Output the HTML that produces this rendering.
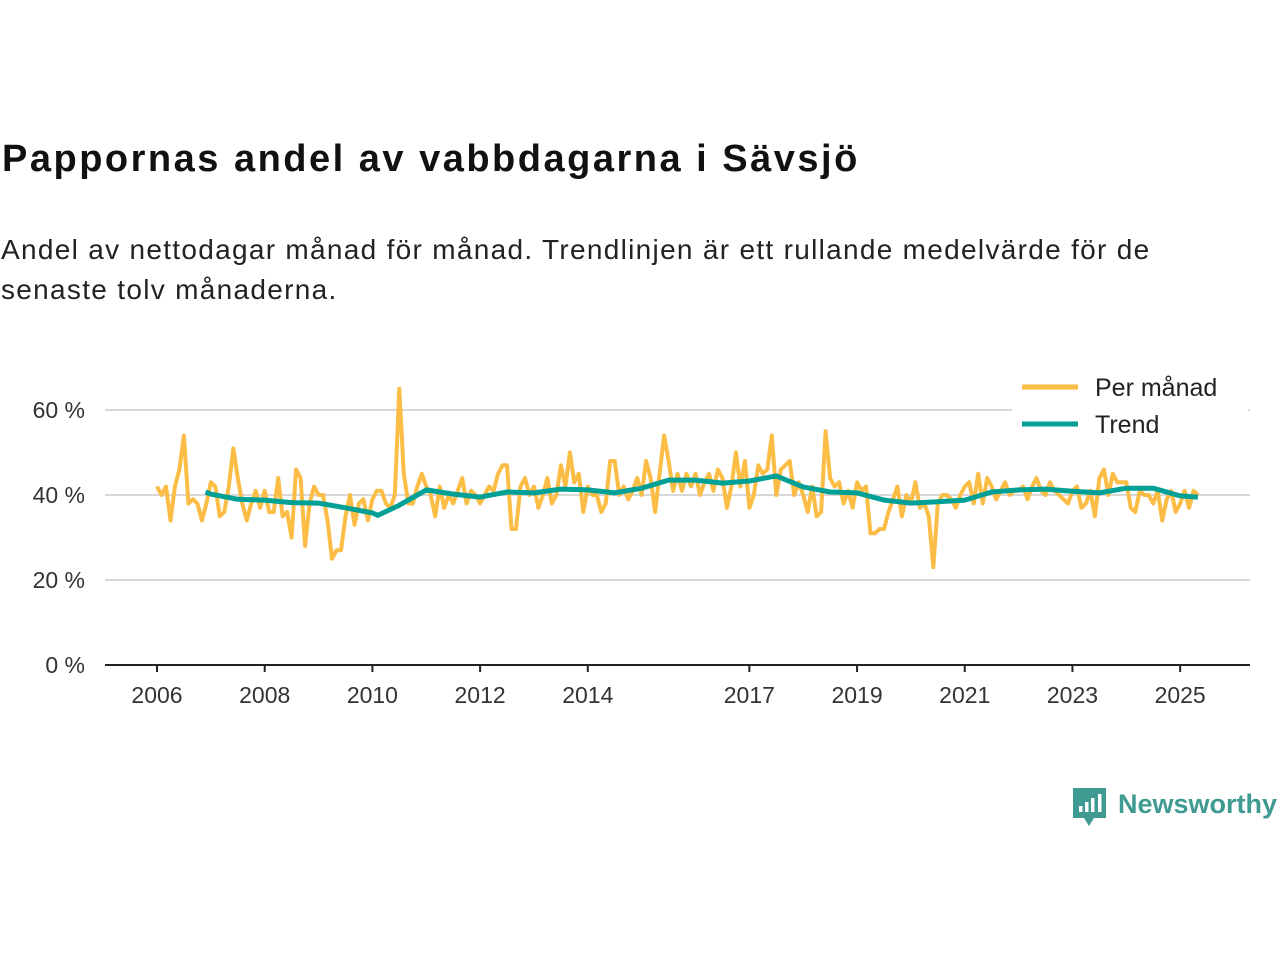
<!DOCTYPE html>
<html><head><meta charset="utf-8"><style>
body{margin:0;width:1280px;height:960px;background:#fff;font-family:"Liberation Sans",sans-serif;overflow:hidden;position:relative}
#title{position:absolute;left:2px;top:138px;font-size:38px;font-weight:bold;color:#111;letter-spacing:2.5px}
#sub{position:absolute;left:1px;top:230px;font-size:28px;line-height:40px;color:#222;width:1250px;letter-spacing:1.3px}
svg{position:absolute;left:0;top:0}
</style></head><body>
<div id="title">Pappornas andel av vabbdagarna i Sävsjö</div>
<div id="sub">Andel av nettodagar månad för månad. Trendlinjen är ett rullande medelvärde för de senaste tolv månaderna.</div>
<svg id="chart" width="1280" height="960"></svg>
<script>
const yTicks=[0,20,40,60];
const yTickLabels=["0 %","20 %","40 %","60 %"];
const xTicks=[2006,2008,2010,2012,2014,2017,2019,2021,2023,2025];
const startYear=2006;
const monthly=[
42,40,42,34,42,46,54,38,39,38,34,38,
43,42,35,36,42,51,44,38,34,38,41,37,
41,36,36,44,35,36,30,46,44,28,38,42,
40,40,34,25,27,27,35,40,33,38,39,34,
39,41,41,38,37,40,65,45,38,38,42,45,
42,40,35,42,37,40,38,41,44,38,41,40,
38,40,42,41,45,47,47,32,32,42,44,40,
42,37,40,44,38,40,47,42,50,43,45,36,
42,40,40,36,38,48,48,40,42,39,41,44,
40,48,44,36,45,54,48,41,45,41,45,42,
45,40,43,45,41,46,44,37,42,50,42,48,
37,40,47,45,46,54,40,46,47,48,40,43,
40,36,42,35,36,55,44,42,43,38,41,37,
43,41,42,31,31,32,32,36,39,42,35,40,
38,43,37,38,35,23,38,40,40,39,37,40,
42,43,38,45,38,44,42,39,41,43,40,41,
41,42,39,42,44,41,40,43,41,40,39,38,
41,42,37,38,41,35,44,46,40,45,43,43,
43,37,36,41,40,40,38,41,34,39,41,36,
38,41,37,41,40];
const trendDates=[2006.9,2007,2007.5,2008,2008.5,2009,2009.5,2010,2010.1,2010.5,2011,2011.5,2012,2012.5,2013,2013.5,2014,2014.5,2015,2015.5,2016,2016.5,2017,2017.5,2018,2018.5,2019,2019.5,2020,2020.5,2021,2021.5,2022,2022.5,2023,2023.5,2024,2024.5,2025,2025.33];
const trendValues=[40.7,40.2,39,38.8,38.2,38.1,37,35.8,35.2,37.6,41.2,40.2,39.5,40.7,40.5,41.4,41.2,40.5,41.6,43.5,43.5,42.8,43.3,44.5,41.9,40.7,40.5,38.8,38.1,38.4,38.8,40.7,41.2,41.4,40.9,40.5,41.6,41.6,39.8,39.5];

const NS="http://www.w3.org/2000/svg";
const svg=document.getElementById('chart');
const X0=157,PX_YEAR=53.85,Y0=665,PX_PCT=4.25;
const xs=t=>X0+(t-startYear)*PX_YEAR;
const ys=v=>Y0-v*PX_PCT;
function mk(tag,attrs){const e=document.createElementNS(NS,tag);for(const k in attrs)e.setAttribute(k,attrs[k]);svg.appendChild(e);return e;}

yTicks.forEach((v,i)=>{
  if(v>0){const g=mk('line',{x1:105,x2:1250,y1:ys(v),y2:ys(v),stroke:'#d8d8d8','stroke-width':2});
  
  }
  const t=mk('text',{x:85,y:ys(v)+8,'text-anchor':'end','font-size':23,fill:'#333'});
  t.textContent=yTickLabels[i];
  
  
});
const ax=mk('line',{x1:105,x2:1250,y1:Y0,y2:Y0,stroke:'#222','stroke-width':2});


xTicks.forEach(yr=>{
  const l=mk('line',{x1:xs(yr),x2:xs(yr),y1:Y0,y2:Y0+7,stroke:'#222','stroke-width':2});
  
  
  const t=mk('text',{x:xs(yr),y:703,'text-anchor':'middle','font-size':23,fill:'#333'});
  t.textContent=yr;
  
  
});
const mp=monthly.map((v,i)=>xs(startYear+i/12).toFixed(1)+','+ys(v).toFixed(1)).join(' ');
const ml=mk('polyline',{points:mp,fill:'none',stroke:'#fbbd45','stroke-width':4,'stroke-linejoin':'round'});


const tp=trendValues.map((v,i)=>xs(trendDates[i]).toFixed(1)+','+ys(v).toFixed(1)).join(' ');
const tl=mk('polyline',{points:tp,fill:'none',stroke:'#00a096','stroke-width':5,'stroke-linejoin':'round'});



const lb=mk('rect',{x:1012,y:368,width:236,height:74,fill:'#fff'});


[['Per månad','#fbbd45',387],['Trend','#00a096',424]].forEach(([n,c,y])=>{
  const l=mk('line',{x1:1022,x2:1078,y1:y,y2:y,stroke:c,'stroke-width':5});
  
  
  const t=mk('text',{x:1095,y:y+9,'font-size':25,fill:'#222'});
  t.textContent=n;
  
  
});
const ic=mk('path',{d:'M1073 788 h33 v30 h-12 l-5 8 l-5 -8 h-11 z',fill:'#3f9a92'});


[[1079,806],[1085,802],[1091,798],[1098,794]].forEach(([x,y])=>{
  const b=mk('rect',{x:x,y:y,width:3.5,height:812-y,fill:'#fff'});
  
  
});
const lg=mk('text',{x:1118,y:813,'font-size':27,'font-weight':'bold',fill:'#3f9a92'});
lg.textContent='Newsworthy';


</script>
</body></html>
